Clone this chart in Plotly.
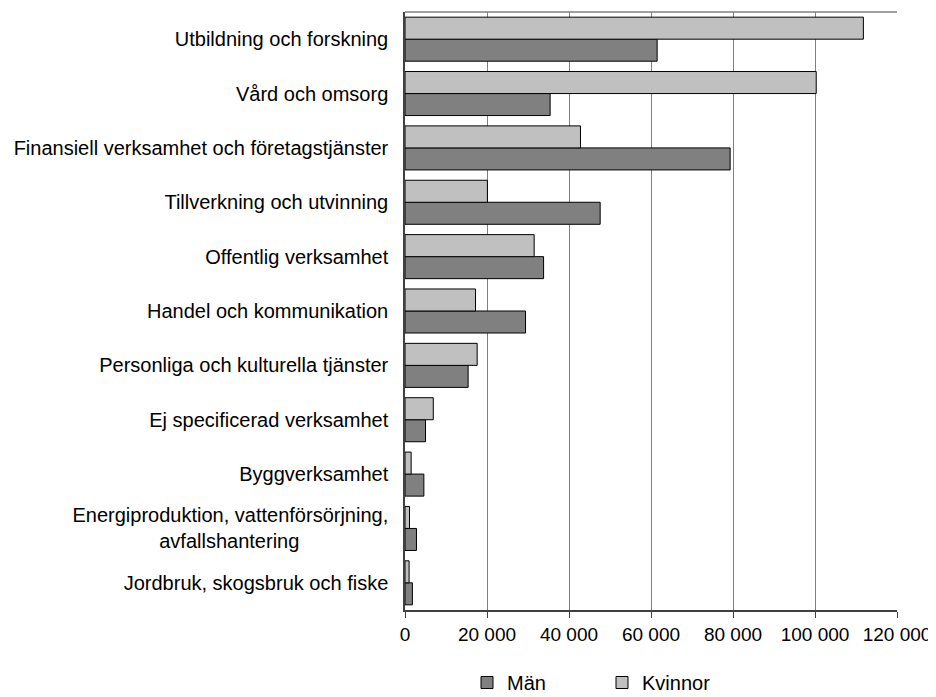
import plotly.graph_objects as go

categories = [
    "Jordbruk, skogsbruk och fiske",
    "Energiproduktion, vattenförsörjning, avfallshantering",
    "Byggverksamhet",
    "Ej specificerad verksamhet",
    "Personliga och kulturella tjänster",
    "Handel och kommunikation",
    "Offentlig verksamhet",
    "Tillverkning och utvinning",
    "Finansiell verksamhet och företagstjänster",
    "Vård och omsorg",
    "Utbildning och forskning",
]
category_labels = [
    "Jordbruk, skogsbruk och fiske",
    "Energiproduktion, vattenförsörjning,<br>avfallshantering" + "\u00a0" * 16,
    "Byggverksamhet",
    "Ej specificerad verksamhet",
    "Personliga och kulturella tjänster",
    "Handel och kommunikation",
    "Offentlig verksamhet",
    "Tillverkning och utvinning",
    "Finansiell verksamhet och företagstjänster",
    "Vård och omsorg",
    "Utbildning och forskning",
]
man = [1800, 2800, 4600, 5000, 15400, 29400, 33800, 47600, 79300, 35400, 61500]
kvinnor = [1000, 1100, 1500, 6900, 17600, 17200, 31500, 20100, 42800, 100300, 111800]
x_ticks = [0, 20000, 40000, 60000, 80000, 100000, 120000]

fig = go.Figure()
fig.add_trace(go.Bar(
    y=categories, x=man, orientation="h", name="Män",
    marker=dict(color="#808080", line=dict(color="#000000", width=1)),
))
fig.add_trace(go.Bar(
    y=categories, x=kvinnor, orientation="h", name="Kvinnor",
    marker=dict(color="#C0C0C0", line=dict(color="#000000", width=1)),
))

W, H = 928, 689
fig.update_layout(
    width=W, height=H,
    margin=dict(l=397, r=39, t=4, b=87),
    barmode="group", bargap=0.19, bargroupgap=0,
    paper_bgcolor="white", plot_bgcolor="white",
    separators=", ",
    font=dict(family="Liberation Sans, Arial, sans-serif", size=20, color="#000000"),
    xaxis=dict(
        range=[0, 120000], tickvals=x_ticks, tickformat=",d",
        tickfont=dict(size=19),
        showgrid=True, gridcolor="#808080", gridwidth=1.3,
        showline=True, linecolor="#404040", linewidth=1.5,
        ticks="outside", ticklen=6, tickcolor="#404040",
        zeroline=False, fixedrange=True, automargin=False,
    ),
    yaxis=dict(
        categoryorder="array", categoryarray=categories,
        tickmode="array", tickvals=categories, ticktext=category_labels,
        tickfont=dict(size=20),
        showline=True, linecolor="#404040", linewidth=1.5,
        ticks="", ticklabelstandoff=11, showgrid=False, zeroline=False,
        automargin=False,
    ),
    legend=dict(
        orientation="h", xref="container", yref="container",
        x=459 / W, xanchor="left", y=1 - 655 / H, yanchor="top",
        font=dict(size=20), entrywidth=90, itemwidth=30,
        traceorder="normal", borderwidth=0,
    ),
    shapes=[dict(type="line", xref="paper", yref="paper", x0=0, x1=1, y0=1, y1=1,
                 line=dict(color="#808080", width=1.5))],
)

fig.write_html("out.html")
